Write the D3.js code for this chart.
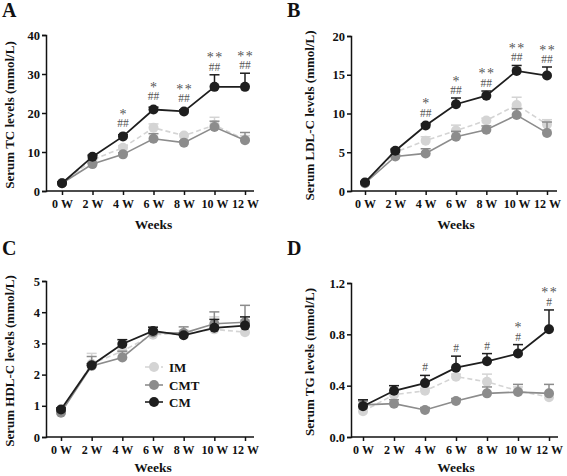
<!DOCTYPE html>
<html><head><meta charset="utf-8">
<script src="https://cdn.jsdelivr.net/npm/d3@7"></script>
<style>
body{margin:0;background:#fff;}
text{font-family:"Liberation Serif","Times New Roman",serif;font-weight:bold;}
</style></head>
<body><svg id="c" width="567" height="476"></svg>
<script>
const weeks = ["0 W","2 W","4 W","6 W","8 W","10 W","12 W"];

// Panel A: TC
const tcIM   = [2.0, 8.0, 11.1, 16.2, 14.2, 16.9, 13.2];
const tcIMErr= [0.2, 0.3, 0.5, 1.0, 0.4, 2.0, 1.0];
const tcCMT  = [2.0, 6.9, 9.4, 13.4, 12.4, 16.4, 13.0];
const tcCMTErr=[0.2, 0.3, 0.4, 1.3, 0.4, 1.5, 2.0];
const tcCM   = [2.0, 8.8, 14.0, 20.9, 20.4, 26.7, 26.7];
const tcCMErr= [0.3, 0.4, 0.4, 0.6, 0.4, 3.1, 3.5];
const tcStar = ["", "", "*", "*", "**", "**", "**"];
const tcHash = ["", "", "##", "##", "##", "##", "##"];

// Panel B: LDL-C
const ldlIM   = [1.0, 5.0, 6.5, 7.8, 9.1, 11.1, 8.6];
const ldlIMErr= [0.1, 0.2, 0.5, 0.7, 0.3, 1.0, 0.6];
const ldlCMT  = [1.0, 4.45, 4.85, 7.0, 7.9, 9.8, 7.5];
const ldlCMTErr=[0.1, 0.2, 0.6, 0.7, 0.5, 0.8, 1.4];
const ldlCM   = [1.1, 5.2, 8.45, 11.2, 12.3, 15.5, 14.9];
const ldlCMErr= [0.1, 0.2, 0.2, 0.8, 0.6, 0.7, 1.1];
const ldlStar = ["", "", "*", "*", "**", "**", "**"];
const ldlHash = ["", "", "##", "##", "##", "##", "##"];

// Panel C: HDL-C
const hdlIM   = [0.82, 2.35, 2.75, 3.28, 3.32, 3.45, 3.36];
const hdlIMErr= [0.05, 0.33, 0.1, 0.1, 0.1, 0.4, 0.4];
const hdlCMT  = [0.78, 2.28, 2.55, 3.35, 3.33, 3.63, 3.68];
const hdlCMTErr=[0.05, 0.3, 0.2, 0.1, 0.2, 0.38, 0.54];
const hdlCM   = [0.88, 2.30, 2.98, 3.40, 3.26, 3.50, 3.57];
const hdlCMErr= [0.05, 0.05, 0.14, 0.12, 0.06, 0.27, 0.28];

// Panel D: TG
const tgIM   = [0.20, 0.33, 0.36, 0.47, 0.43, 0.36, 0.31];
const tgIMErr= [0.02, 0.02, 0.02, 0.02, 0.06, 0.03, 0.02];
const tgCMT  = [0.25, 0.26, 0.21, 0.28, 0.34, 0.35, 0.34];
const tgCMTErr=[0.03, 0.03, 0.02, 0.02, 0.05, 0.06, 0.07];
const tgCM   = [0.24, 0.36, 0.42, 0.54, 0.59, 0.65, 0.84];
const tgCMErr= [0.05, 0.04, 0.06, 0.09, 0.06, 0.07, 0.15];
const tgStar = ["", "", "", "", "", "*", "**"];
const tgHash = ["", "", "#", "#", "#", "#", "#"];

const groups = ["IM", "CMT", "CM"];
const colors = {IM:"#d4d4d4", CMT:"#8c8c8c", CM:"#1e1e1e"};
const dashes = {IM:"5,3", CMT:null, CM:null};

const panels = [
  {letter:"A", lx:2, ly:17, ylab:"Serum TC levels (mmol/L)", ylabX:10, ax:46, top:35, bottom:191, x0:62, x1:245, xEnd:254,
   dom:[0,40], ticks:[0,10,20,30,40], fmt:d=>d, weeksY:229,
   series:{IM:[tcIM,tcIMErr],CMT:[tcCMT,tcCMTErr],CM:[tcCM,tcCMErr]}, star:tcStar, hash:tcHash},
  {letter:"B", lx:287, ly:17, ylab:"Serum LDL-C levels (mmol/L)", ylabX:310, ax:351, top:36, bottom:191, x0:365, x1:547, xEnd:557,
   dom:[0,20], ticks:[0,5,10,15,20], fmt:d=>d, weeksY:229,
   series:{IM:[ldlIM,ldlIMErr],CMT:[ldlCMT,ldlCMTErr],CM:[ldlCM,ldlCMErr]}, star:ldlStar, hash:ldlHash},
  {letter:"C", lx:2, ly:255, ylab:"Serum HDL-C levels (mmol/L)", ylabX:10, ax:46, top:281, bottom:437, x0:61, x1:245, xEnd:254,
   dom:[0,5], ticks:[0,1,2,3,4,5], fmt:d=>d, weeksY:472,
   series:{IM:[hdlIM,hdlIMErr],CMT:[hdlCMT,hdlCMTErr],CM:[hdlCM,hdlCMErr]}, star:null, hash:null, legend:true},
  {letter:"D", lx:287, ly:255, ylab:"Serum TG levels (mmol/L)", ylabX:310, ax:351, top:283, bottom:437, x0:363, x1:549, xEnd:558,
   dom:[0,1.2], ticks:[0,0.4,0.8,1.2], fmt:d3.format(".1f"), weeksY:472,
   series:{IM:[tgIM,tgIMErr],CMT:[tgCMT,tgCMTErr],CM:[tgCM,tgCMErr]}, star:tgStar, hash:tgHash}
];

const svg = d3.select("#c");

panels.forEach(p => {
  const g = svg.append("g");
  const x = d3.scalePoint().domain(weeks).range([p.x0, p.x1]);
  const y = d3.scaleLinear().domain(p.dom).range([p.bottom, p.top]);

  g.append("text").attr("x", p.lx).attr("y", p.ly).attr("font-size", 20).attr("fill", "#111").text(p.letter);

  // axes
  const yAxis = d3.axisLeft(y).tickValues(p.ticks).tickFormat(p.fmt).tickSize(4).tickPadding(2);
  const ya = g.append("g").attr("transform", `translate(${p.ax},0)`).call(yAxis);
  const xAxis = d3.axisBottom(x).tickSize(4).tickPadding(4);
  const xa = g.append("g").attr("transform", `translate(0,${p.bottom})`).call(xAxis);
  xa.select(".domain").attr("d", `M${p.ax},0H${p.xEnd}`);
  [ya, xa].forEach(a => {
    a.selectAll("path,line").attr("stroke", "#111").attr("stroke-width", 1.5);
    a.selectAll("text").attr("font-size", 12).attr("fill", "#111")
      .style("font-family", '"Liberation Serif",serif').style("font-weight", "bold");
  });
  ya.selectAll("text").attr("font-size", 12.5);

  // labels
  g.append("text").attr("transform", `translate(${p.ylabX + 4},${(p.top + p.bottom) / 2 + 2}) rotate(-90)`)
    .attr("text-anchor", "middle").attr("font-size", 13).attr("fill", "#111").text(p.ylab);
  g.append("text").attr("x", (p.x0 + p.x1) / 2).attr("y", p.weeksY).attr("text-anchor", "middle")
    .attr("font-size", 13.5).attr("fill", "#111").text("Weeks");

  // series
  groups.forEach(k => {
    const [vals, errs] = p.series[k];
    const col = colors[k];
    const sg = g.append("g");
    vals.forEach((v, i) => {
      const cx = x(weeks[i]);
      sg.append("line").attr("x1", cx).attr("x2", cx).attr("y1", y(v)).attr("y2", y(v + errs[i]))
        .attr("stroke", col).attr("stroke-width", 1.5);
      sg.append("line").attr("x1", cx - 5).attr("x2", cx + 5).attr("y1", y(v + errs[i])).attr("y2", y(v + errs[i]))
        .attr("stroke", col).attr("stroke-width", 1.5);
    });
    const line = d3.line().x((d, i) => x(weeks[i])).y(d => y(d));
    sg.append("path").datum(vals).attr("d", line).attr("fill", "none").attr("stroke", col)
      .attr("stroke-width", k === "CM" ? 1.8 : 1.6).attr("stroke-dasharray", dashes[k]);
    sg.selectAll("circle").data(vals).join("circle")
      .attr("cx", (d, i) => x(weeks[i])).attr("cy", d => y(d)).attr("r", 5).attr("fill", col);
  });

  // significance marks: one text per week, star line above hash line
  if (p.hash) {
    const [cmV, cmE] = p.series.CM;
    p.hash.forEach((h, i) => {
      const topY = Math.min(y(cmV[i] + cmE[i]), y(cmV[i]) - 5);
      const cx = x(weeks[i]);
      const s = p.star[i];
      if (!h && !s) return;
      const t = g.append("text").attr("text-anchor", "middle").attr("fill", "#555")
        .style("font-weight", "normal");
      if (s) {
        t.append("tspan").attr("x", cx + (s.length > 1 ? 0.7 : 0)).attr("y", topY - 12.5)
          .attr("font-size", 14).attr("letter-spacing", s.length > 1 ? 1.5 : 0).text(s);
      }
      if (h) {
        t.append("tspan").attr("x", cx).attr("y", topY - 4).attr("font-size", 11.5).text(h);
      }
    });
  }

  if (p.legend) {
    const items = [["IM", 367], ["CMT", 385], ["CM", 402]];
    items.forEach(([k, yy]) => {
      g.append("line").attr("x1", 145).attr("x2", 163).attr("y1", yy).attr("y2", yy)
        .attr("stroke", colors[k]).attr("stroke-width", 1.6).attr("stroke-dasharray", dashes[k]);
      g.append("circle").attr("cx", 154).attr("cy", yy).attr("r", 5).attr("fill", colors[k]);
      g.append("text").attr("x", 169).attr("y", yy + 4.5).attr("font-size", 13).attr("fill", "#111").text(k);
    });
  }
});
</script></body></html>
